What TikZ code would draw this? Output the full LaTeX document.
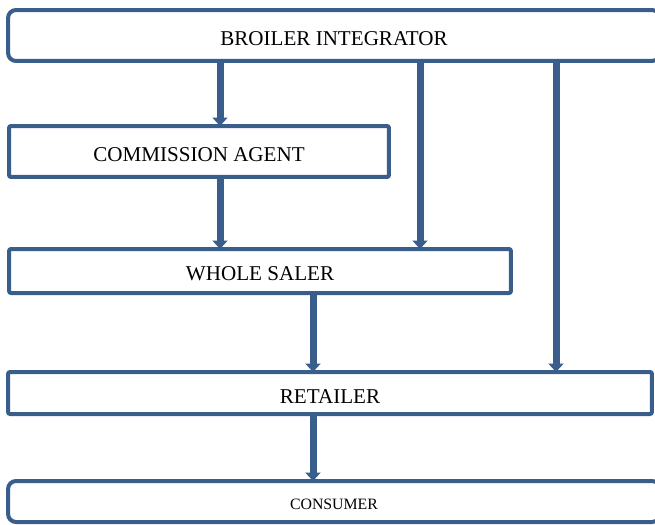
\documentclass[tikz,border=0pt]{standalone}
\usepackage{fontspec}
\setmainfont{Liberation Serif}
\usepackage{tikz}
\usetikzlibrary{arrows.meta}
\definecolor{chainblue}{RGB}{58,94,140}

\begin{document}
\begin{tikzpicture}[x=0.02cm,y=-0.02cm,every node/.style={outer sep=0pt}]
  \tikzstyle{stage} = [draw=chainblue,line width=0.08cm,rounded corners=0.04cm,
    inner sep=0pt,text height=0.4cm,font=\fontsize{12}{14}\selectfont];
  \tikzstyle{endstage} = [stage,rounded corners=0.16cm];
  \tikzstyle{flow} = [chainblue,line width=0.14cm,
    -{Triangle[width=0.3cm,length=0.17cm]}];
  \useasboundingbox (0,0) rectangle (655,524);
  % marketing stages
  \node[endstage,minimum width=13.04cm,minimum height=1.02cm] (bi) at (334,35.5) {BROILER INTEGRATOR};
  \node[stage,minimum width=7.6cm,minimum height=1.02cm] (ca) at (199,151.5) {COMMISSION AGENT};
  \node[stage,minimum width=10.04cm,minimum height=0.88cm] (ws) at (260,271) {WHOLE SALER};
  \node[stage,minimum width=12.88cm,minimum height=0.84cm] (rt) at (330,393) {RETAILER};
  \node[endstage,minimum width=13.04cm,minimum height=0.82cm,text height=0.33cm,
    font=\fontsize{9}{11}\selectfont] (co) at (334,501.5) {CONSUMER};
  % channels
  \coordinate (left) at (220,0);
  \coordinate (mid) at (313,0);
  \coordinate (wide) at (420,0);
  \coordinate (far) at (556,0);
  \draw[flow] (bi.south -| left) -- (ca.north -| left);
  \draw[flow] (bi.south -| wide) -- (ws.north -| wide);
  \draw[flow] (bi.south -| far) -- (rt.north -| far);
  \draw[flow] (ca.south -| left) -- (ws.north -| left);
  \draw[flow] (ws.south -| mid) -- (rt.north -| mid);
  \draw[flow] (rt.south -| mid) -- (co.north -| mid);
\end{tikzpicture}
\end{document}
